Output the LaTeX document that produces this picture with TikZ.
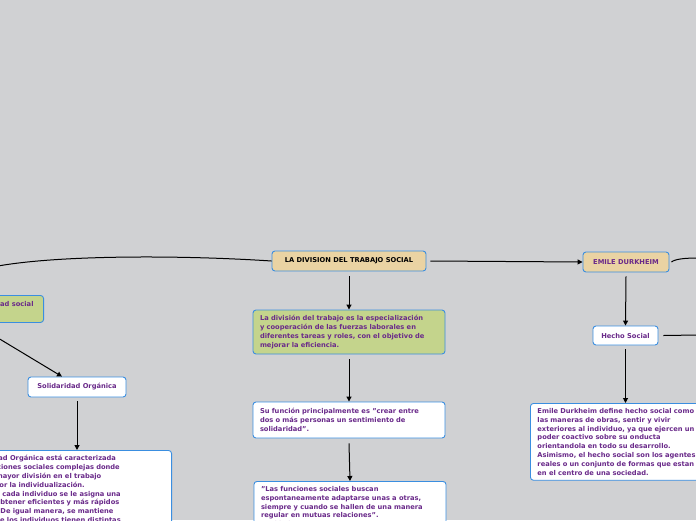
\documentclass[tikz,border=0pt]{standalone}
\usepackage{fontspec}
\setmainfont{DejaVu Sans}
\usetikzlibrary{arrows.meta}
\definecolor{bg}{HTML}{D0D1D3}
\definecolor{bd}{HTML}{3A8EE0}
\definecolor{tan}{HTML}{EAD3A3}
\definecolor{grn}{HTML}{C4D48C}
\definecolor{pur}{HTML}{6A2A8A}
\tikzset{
 box/.style={draw=bd, line width=0.9pt, rounded corners=3pt, fill=white, text=pur,
   font=\fontsize{6.7}{8.8}\selectfont\bfseries, inner xsep=7pt, inner ysep=5pt, align=left},
 conn/.style={line width=1pt, black},
 arr/.style={conn, -{Triangle[length=5pt,width=5pt]}}
}
\begin{document}
\begin{tikzpicture}[x=1pt,y=-1pt]
\fill[bg] (0,0) rectangle (696,520);
\useasboundingbox (0,0) rectangle (696,520);
\clip (0,0) rectangle (696,520);
\node[box, fill=tan, text=black, minimum width=154pt, minimum height=20pt, align=center] (t) at (349,261) {LA DIVISION DEL TRABAJO SOCIAL};
\node[box, fill=grn, text width=178pt, minimum height=44pt] (g) at (349,332) {La división del trabajo es la especialización\\y cooperación de las fuerzas laborales en\\diferentes tareas y roles, con el objetivo de\\mejorar la eficiencia.};
\node[box, text width=178pt, minimum height=36pt] (s) at (349,420) {Su función principalmente es "crear entre\\dos o más personas un sentimiento de\\solidaridad".};
\node[box, text width=178pt, anchor=north] (l) at (350,481) {"Las funciones sociales buscan\\espontaneamente adaptarse unas a otras,\\siempre y cuando se hallen de una manera\\regular en mutuas relaciones".\\Durkheim};
\node[box, fill=tan, minimum width=86pt, minimum height=20pt, align=center] (e) at (626,262) {EMILE DURKHEIM};
\node[box, minimum width=65pt, minimum height=19pt, align=center] (h) at (625.5,335.5) {Hecho Social};
\node[box, anchor=north west, text width=190pt] (d) at (530,403) {Emile Durkheim define hecho social como\\las maneras de obras, sentir y vivir\\exteriores al individuo, ya que ejercen un\\poder coactivo sobre su onducta\\orientandola en todo su desarrollo.\\Asimismo, el hecho social son los agentes\\reales o un conjunto de formas que estan\\en el centro de una sociedad.};
\node[box, fill=grn, anchor=north east, minimum height=27pt, inner xsep=10pt] (lg) at (44,295) {Tipos de solidaridad social\\según su unidad:};
\node[box, minimum width=98pt, minimum height=20pt, align=center] (so) at (77,387) {Solidaridad Orgánica};
\node[box, anchor=north east, text width=210pt] (lt) at (172,450) {La solidaridad Orgánica está caracterizada\\por las relaciones sociales complejas donde\\existe una mayor división en el trabajo\\producida por la individualización.\\Asimismo, a cada individuo se le asigna una\\labor para obtener eficientes y más rápidos\\resultados. De igual manera, se mantiene\\unida porque los individuos tienen distintas\\funciones.};
\coordinate (lend) at (-2,266);
\coordinate (rend1) at (698,258);
\coordinate (rend2) at (698,335);
\coordinate (lgs) at (-2,338);
\draw[arr] (t.south) ++(0,5) -- (g.north);
\draw[arr] (g.south) ++(0,5) -- (s.north);
\draw[arr] (s.south) ++(0,5) -- (l.north);
\draw[arr] (t.east) ++(4,0) -- (e.west);
\draw[conn] (t.west) .. controls (180,255) and (60,255) .. (lend);
\draw[conn] (e.east) ++(2,0) .. controls (675,259) and (685,258) .. (rend1);
\draw[arr] (e.south) ++(0,4) -- (h.north);
\draw[conn] (h.east) ++(5,0) -- (rend2);
\draw[arr] (h.south) ++(0,4) -- (d.north -| h.south);
\draw[arr] (lgs) -- (so.north -| 62,0);
\draw[arr] (so.south) ++(0,4) -- (lt.north -| so.south);
\end{tikzpicture}
\end{document}
